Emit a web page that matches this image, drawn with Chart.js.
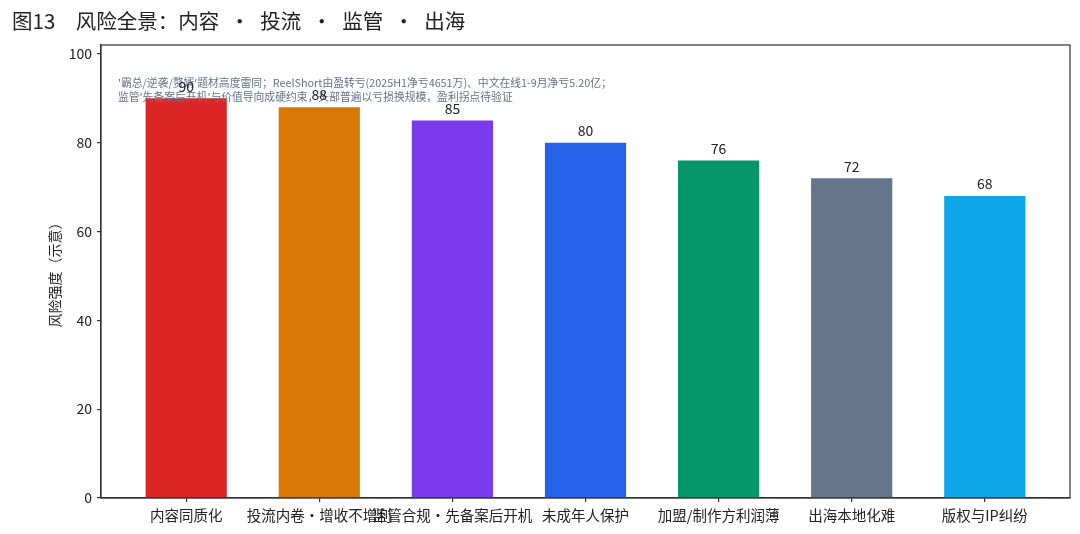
<!DOCTYPE html>
<html><head><meta charset="utf-8">
<script src="https://cdn.jsdelivr.net/npm/chart.js@4.4.1/dist/chart.umd.min.js"></script>
<style>html,body{margin:0;padding:0;background:#fff}#wrap{width:1080px;height:534px;position:relative}</style>
</head><body><div id="wrap"><canvas id="c" style="width:1080px;height:534px"></canvas></div>
<script>
const categories = ['内容同质化', '投流内卷・增收不增利', '监管合规・先备案后开机', '未成年人保护', '加盟/制作方利润薄', '出海本地化难', '版权与IP纠纷'];
const values = [90, 88, 85, 80, 76, 72, 68];
const barColors = ['#dc2626', '#d97706', '#7c3aed', '#2563eb', '#059669', '#64748b', '#0ea5e9'];
const yTicks = [0, 20, 40, 60, 80, 100];
const titleText = '图13\u2003风险全景：内容\u2002·\u2002投流\u2002·\u2002监管\u2002·\u2002出海';
const yAxisTitle = '风险强度（示意）';
const noteLines = [
  "'霸总/逆袭/赘婿'题材高度雷同；ReelShort由盈转亏(2025H1净亏4651万)、中文在线1-9月净亏5.20亿；",
  "监管'先备案后开机'与价值导向成硬约束，头部普遍以亏损换规模，盈利拐点待验证"
];

const FONT = '"Noto Sans CJK SC", "DejaVu Sans", sans-serif';

const deco = {
  id: 'deco',
  afterDatasetsDraw(chart) {
    const {ctx, chartArea: a} = chart;
    ctx.save();
    ctx.font = '10.8px ' + FONT;
    ctx.fillStyle = '#64748b';
    ctx.textBaseline = 'middle';
    ctx.textAlign = 'left';
    noteLines.forEach((t, i) => ctx.fillText(t, a.left + 17, a.top + 38 + i * 14));
    const meta = chart.getDatasetMeta(0);
    ctx.font = '14px ' + FONT;
    ctx.fillStyle = '#222';
    ctx.textAlign = 'center';
    ctx.textBaseline = 'middle';
    meta.data.forEach((bar, i) => ctx.fillText(String(values[i]), bar.x, bar.y - 12));
    ctx.strokeStyle = '#333';
    ctx.lineWidth = 1.2;
    ctx.strokeRect(a.left, a.top, a.right - a.left, a.bottom - a.top);
    ctx.restore();
  }
};

new Chart(document.getElementById('c'), {
  type: 'bar',
  data: {
    datasets: [{
      data: values.map((v, i) => ({x: i, y: v})),
      backgroundColor: barColors,
      borderWidth: 0,
      barPercentage: 0.61,
      categoryPercentage: 1.0
    }]
  },
  options: {
    responsive: false,
    animation: false,
    layout: {padding: {left: 12, right: 10, top: 0, bottom: 0}},
    plugins: {
      legend: {display: false},
      tooltip: {enabled: false},
      title: {
        display: true, text: titleText, align: 'start',
        color: '#222', font: {family: FONT, size: 20.5, weight: 'normal'},
        padding: {top: 9, bottom: 11.4}
      }
    },
    scales: {
      x: {
        type: 'linear', min: -0.64, max: 6.64, offset: false,
        afterBuildTicks: s => { s.ticks = categories.map((_, i) => ({value: i})); },
        afterFit: s => { s.height = 36; s.paddingLeft = 0; s.paddingRight = 0; },
        ticks: {
          callback: v => categories[v],
          color: '#222', font: {family: FONT, size: 14.5}, padding: 5,
          maxRotation: 0, autoSkip: false
        },
        grid: {display: true, offset: false, drawOnChartArea: false, drawTicks: true, tickLength: 4, color: '#333', lineWidth: 1.2},
        border: {display: true, color: '#333', width: 1.2}
      },
      y: {
        min: 0, max: 102,
        afterBuildTicks: s => { s.ticks = yTicks.map(v => ({value: v})); },
        afterFit: s => { s.width = 89; },
        ticks: {color: '#222', font: {family: FONT, size: 14}, padding: 5},
        grid: {display: true, drawOnChartArea: false, drawTicks: true, tickLength: 4, color: '#333', lineWidth: 1.2},
        border: {display: true, color: '#333', width: 1.2},
        title: {display: true, text: yAxisTitle, color: '#222', font: {family: FONT, size: 14}, padding: {top: 34, bottom: 0}}
      }
    }
  },
  plugins: [deco]
});
</script>
</body></html>
